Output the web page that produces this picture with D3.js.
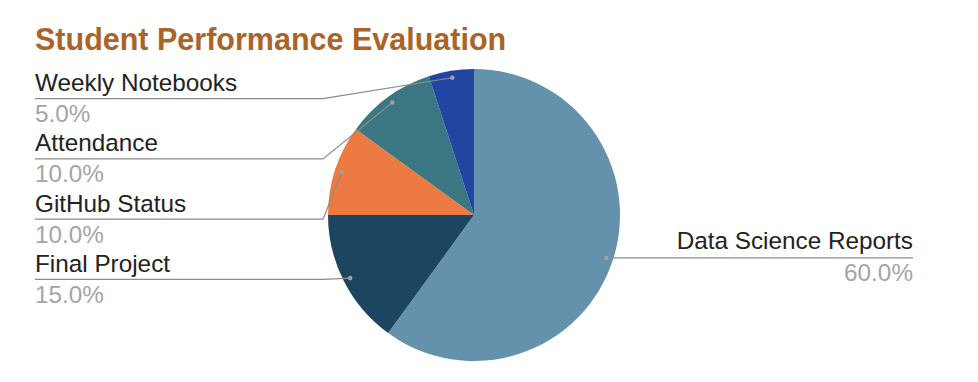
<!DOCTYPE html>
<html>
<head>
  <meta charset="utf-8">
  <style>
    body { margin: 0; padding: 0; background: white; }
    svg { display: block; font-family: "Liberation Sans", Arial, sans-serif; }
    .title { fill: #ab6428; font-size: 30.5px; font-weight: bold; }
    .name { fill: #222; font-size: 24.3px; }
    .pct { fill: #a5a5a5; font-size: 24.3px; }
    .leader { fill: none; stroke: #8c8c8c; stroke-width: 1.2; }
    .dot { fill: #a0a0a0; }
  </style>
</head>
<body>
  <div id="chart"></div>
  <script src="https://d3js.org/d3.v7.min.js"></script>
  <script>
    // chart data
    var categories = ["Data Science Reports", "Final Project", "GitHub Status", "Attendance", "Weekly Notebooks"]
    var shares = [60, 15, 10, 10, 5]
    var colors = ["#6491ac", "#1c4660", "#ee7a43", "#3b7683", "#2345a2"]

    var width = 978, height = 382
    var cx = 474, cy = 215, r = 146

    var svg = d3.select("#chart").append("svg")
      .attr("width", width)
      .attr("height", height)

    svg.append("text")
      .attr("class", "title")
      .attr("x", 35)
      .attr("y", 50)
      .text("Student Performance Evaluation")

    var data = categories.map(function (c, i) {
      return { name: c, value: shares[i], color: colors[i] }
    })

    var pie = d3.pie().sort(null).value(function (d) { return d.value })
    var arcs = pie(data)
    var total = d3.sum(shares)

    var arc = d3.arc().innerRadius(0).outerRadius(r)

    var g = svg.append("g").attr("transform", "translate(" + cx + "," + cy + ")")

    g.selectAll("path")
      .data(arcs)
      .enter().append("path")
      .attr("d", arc)
      .attr("fill", function (d) { return d.data.color })

    // label anchor points inside slices
    function anchor(d) {
      var a = (d.startAngle + d.endAngle) / 2
      var rr = r * 0.952
      return [cx + Math.sin(a) * rr, cy - Math.cos(a) * rr]
    }

    var fmt = function (v) { return d3.format(".1f")(v / total * 100) + "%" }

    // left side labels: ordered from top (last slices first)
    var left = arcs.slice(1).reverse()
    var rowTop = 98.7, rowStep = 60.2, textX = 35, bendX = 323

    left.forEach(function (d, i) {
      var y = rowTop + i * rowStep
      var p = anchor(d)
      svg.append("path")
        .attr("class", "leader")
        .attr("d", "M" + textX + "," + y + "H" + bendX + "L" + p[0] + "," + p[1])
      svg.append("circle").attr("class", "dot").attr("cx", p[0]).attr("cy", p[1]).attr("r", 2.3)
      svg.append("text").attr("class", "name").attr("x", textX).attr("y", y - 7.5).text(d.data.name)
      svg.append("text").attr("class", "pct").attr("x", textX).attr("y", y + 23.5).text(fmt(d.data.value))
    })

    // right side label
    var big = arcs[0]
    var pb = anchor(big)
    var rightX = 913
    svg.append("path")
      .attr("class", "leader")
      .attr("d", "M" + pb[0] + "," + pb[1] + "H" + rightX)
    svg.append("circle").attr("class", "dot").attr("cx", pb[0]).attr("cy", pb[1]).attr("r", 2.3)
    svg.append("text").attr("class", "name").attr("x", rightX).attr("y", pb[1] - 8.5)
      .attr("text-anchor", "end").text(big.data.name)
    svg.append("text").attr("class", "pct").attr("x", rightX).attr("y", pb[1] + 23.5)
      .attr("text-anchor", "end").text(fmt(big.data.value))
  </script>
</body>
</html>
